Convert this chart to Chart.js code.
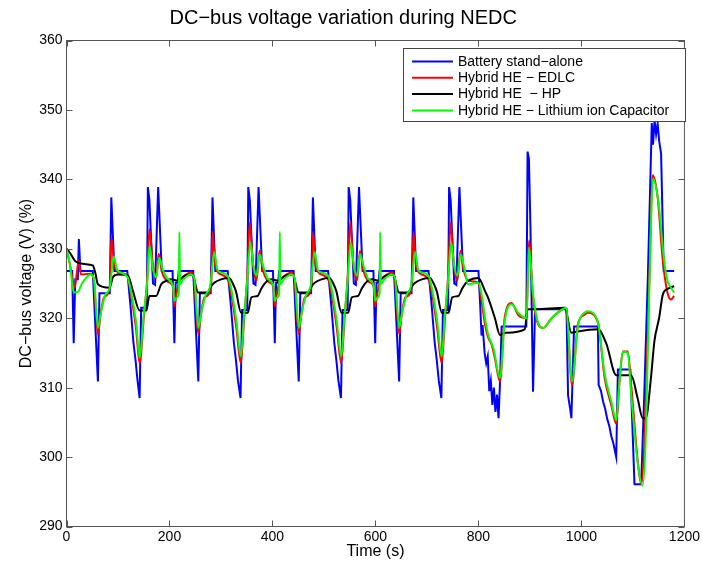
<!DOCTYPE html>
<html>
<head>
<meta charset="utf-8">
<script src="https://cdn.jsdelivr.net/npm/chart.js@4.4.0/dist/chart.umd.min.js"></script>
<style>
  html, body { margin: 0; padding: 0; background: #fff; }
  canvas { display: block; }
</style>
</head>
<body>
<canvas id="chart" width="702" height="563"></canvas>
<script>
const FONT = '"Liberation Sans", Arial, Helvetica, sans-serif';

const seriesNames = ['Battery stand\u2212alone', 'Hybrid HE \u2212 EDLC', 'Hybrid HE  \u2212 HP', 'Hybrid HE \u2212 Lithium ion Capacitor'];
const seriesColors = ['#0000ff', '#ff0000', '#000000', '#00ff00'];
const xTicks = [0, 200, 400, 600, 800, 1000, 1200];
const yTicks = [290, 300, 310, 320, 330, 340, 350, 360];

// [time (s), voltage (V)]
const battery = [
  [0,326.8],[11,326.8],[14,316.4],[17,325.6],[22,325.6],[24,331.4],[27,326.8],[51,326.8],[61,310.9],[64,323.6],[84,323.6],[87,337.4],[93,326.8],
  [118,326.8],[124,322],[130,316.5],[134,314],[138,311],[142,308.5],[145,321.5],[156,321.5],[158,338.9],[161,337],[168,325],[172,324.8],[178,338.9],[185,326.8],
  [195,326.8],[206,326.8],[209.5,316.4],[212,325.1],[216,325.1],[218,326.8],[246,326.8],[256,310.9],[259,323.6],[280,323.6],[283.5,337.4],[289,326.8],
  [313,326.8],[319,322],[325,316.5],[329,314],[333,311],[338,308.5],[341,321.2],[351,321.2],[353,338.9],[356,337],[363,325],[367,324.8],[373,338.9],[380,326.8],
  [390,326.8],[401,326.8],[404.5,316.4],[407,325.1],[411,325.1],[413,326.8],[441,326.8],[451,310.9],[454,323.6],[475,323.6],[478.5,337.4],[484,326.8],
  [508,326.8],[514,322],[520,316.5],[524,314],[528,311],[533,308.5],[536,321.2],[546,321.2],[548,338.9],[551,337],[558,325],[562,324.8],[568,338.9],[575,326.8],
  [585,326.8],[596,326.8],[599.5,316.4],[602,325.1],[606,325.1],[608,326.8],[636,326.8],[646,310.9],[649,323.6],[670,323.6],[673.5,337.4],[679,326.8],
  [703,326.8],[709,322],[715,316.5],[719,314],[723,311],[728,308.5],[731,321.2],[741,321.2],[743,338.9],[746,337],[753,325],[757,324.8],[763,338.9],[770,326.8],
  [780,326.8],[800,326.8],[803,322.5],[806,317.5],[808,319],[812,315],[815,313.5],[818,314.5],[821,309.5],[824,311],[827,307.5],[830,310],[833,306.5],[836,309],[839,305.6],[842,311],[845,318.8],
  [893,318.8],[895.4,344],[898,343],[901,333],[906,309.4],[910,321.3],[971,321.3],[974,308.9],[978,307],[980.5,305.6],[985.7,318.8],
  [1032,318.8],[1033.4,310.4],[1038,309.5],[1042,308],[1046,307],[1050,305.5],[1054,304.5],[1058,303],[1062,302],[1067.6,300],[1070.8,312.6],[1095,312.6],
  [1103,296.1],[1116,296.1],[1122,309],[1129,326],[1136.6,348.1],[1139,345],[1142,348.5],[1145,346.5],[1148,348],[1151,345.5],[1154.7,343.7],[1159.8,326.8],[1180,326.8]
];

const edlc = [
  [0,330],[6,328],[12,325.5],[14.5,324.4],[17,324.8],[24,328.3],[28,326.3],[47,326.4],[53,325.5],[61,317.6],[66,320.5],[73,323],[84,324.4],[87,331.6],[93,327.5],
  [105,326.5],[118,326.2],[125,323.5],[135,318.5],[142,313.5],[150,320],[157,326],[161,332.8],[168,327.5],[174,325.8],[179,329.3],[186,326.5],
  [195,325.4],[203,325],[207,324.4],[209.5,321.7],[213,323.3],[219,325.4],[225,325.9],[242,326.6],[248,325.4],[256,317.7],[261,320.5],[268,323],[281,324.6],[283.7,332.4],[289,327.5],
  [300,326.3],[313,325.6],[320,323.5],[330,318.5],[338.5,313.5],[345,320],[351,326],[356,333.8],[362,328],[369,325.4],[375,329.7],[381,327],
  [390,325.4],[398,325],[402,324.4],[404.5,321.7],[408,323.3],[414,325.4],[420,325.9],[437,326.6],[443,325.4],[451,317.7],[456,320.5],[463,323],[476,324.6],[478.7,332.4],[484,327.5],
  [495,326.3],[508,325.6],[515,323.5],[525,318.5],[533.5,313.5],[540,320],[546,326],[551,333.8],[557,328],[564,325.4],[570,329.7],[576,327],
  [585,325.4],[593,325],[597,324.4],[599.5,321.7],[603,323.3],[609,325.4],[615,325.9],[632,326.6],[638,325.4],[646,317.7],[651,320.5],[658,323],[671,324.6],[673.7,332.4],[679,327.5],
  [690,326.3],[703,325.6],[710,323.5],[720,318.5],[728.5,313.5],[735,320],[741,326],[746,333.8],[752,328],[759,325.4],[765,329.7],[771,327],
  [780,325.4],[800,325.1],[806,322.5],[812.8,319.1],[819,317.2],[825.7,316.2],[832,314.2],[841.8,310.9],[851,320.1],[864.4,322.2],[877,320.5],[893.4,320],
  [898,331.2],[906,323],[916,319.1],[925.7,318.6],[942,320],[961,321.2],[970,321.5],[981.8,310.4],[993,319.1],[1006,320.5],[1012,320.8],[1032,319.4],
  [1045,311.4],[1058,307.5],[1067.6,304.8],[1074,311],[1080.5,315.2],[1090,315.2],[1096.6,310.4],[1109.5,299.3],[1116,296.1],[1122,301.7],[1132,325.8],
  [1138.5,340.6],[1148,337.4],[1158,328.3],[1167,323.7],[1174,322.7],[1180,323.2]
];

const hp = [
  [0,330],[6,329.5],[16,328.3],[22,328],[35,327.8],[51,327.6],[56,326.5],[61,324.9],[84,324.4],[90,325.9],[100,326.3],[119,326.2],[129,323.9],[142,321.1],
  [155,321.1],[161,323.2],[174,323.2],[184,324.9],
  [195,325.4],[203,325.6],[216,325.4],[229,326.1],[245,326.3],[250,325],[255,323.7],[274,323.7],[280,324.5],[287,325.1],[300,325.6],[316,325.8],[323,325],[329,323.9],
  [339,320.8],[352,320.8],[359,323],[371,323.2],[378,324.2],[384,324.9],
  [390,325.4],[398,325.6],[411,325.4],[424,326.1],[440,326.3],[445,325],[450,323.7],[469,323.7],[475,324.5],[482,325.1],[495,325.6],[511,325.8],[518,325],[524,323.9],
  [534,320.8],[547,320.8],[554,323],[566,323.2],[573,324.2],[579,324.9],
  [585,325.4],[593,325.6],[606,325.4],[619,326.1],[635,326.3],[640,325],[645,323.7],[664,323.7],[670,324.5],[677,325.1],[690,325.6],[706,325.8],[713,325],[719,323.9],
  [729,320.8],[742,320.8],[749,323],[761,323.2],[768,324.2],[774,324.9],
  [780,325.4],[800,325.8],[812.8,323.9],[819,322.9],[832,320],[841.8,317.6],[851,317.9],[890,318.4],[895.4,321.3],[910,321.3],[967.6,321.5],[980.5,317.9],
  [993,318.1],[1032,318.4],[1048,316.4],[1067.6,311.8],[1096.6,311.8],[1109,308.5],[1119,305.6],[1125,305.6],[1135,311.4],[1141.7,316.7],[1151,320.1],
  [1158,323.4],[1167,324.2],[1180,324.6]
];

const lic = [
  [0,330],[6,328],[12,324.5],[14.5,323.7],[22,323.8],[30,325],[47,326.3],[53,325.8],[61,318.6],[66,320.5],[75,323.3],[84,324.4],[92,328.9],[98,327],
  [118,326],[125,324],[135,319.5],[142,314.3],[150,320.5],[157,325.4],[161,330.4],[168,327],[174,325.9],[180,328.7],[187,327],
  [195,325.8],[203,325.2],[207,324.5],[209.5,322.5],[213,322.9],[218,323.5],[219.2,332.4],[220.5,324.9],[227,325.6],[242,326.3],[248,325.8],[256,318.6],[261,320.5],[270,323.3],[279,324.6],
  [287,329.5],[293,327],[300,326.6],[313,326.1],[320,324.2],[330,319.5],[338.5,314.5],[345,320.5],[351,325.4],[357,330.9],[363,327.5],[369,326.1],[375,329.2],[382,327.5],
  [390,325.8],[398,325.2],[402,324.5],[404.5,322.5],[408,322.9],[413,323.5],[414.2,332.4],[415.5,324.9],[422,325.6],[437,326.3],[443,325.8],[451,318.6],[456,320.5],[465,323.3],[474,324.6],
  [482,329.5],[488,327],[495,326.6],[508,326.1],[515,324.2],[525,319.5],[533.5,314.5],[540,320.5],[546,325.4],[552,330.9],[558,327.5],[564,326.1],[570,329.2],[577,327.5],
  [585,325.8],[593,325.2],[597,324.5],[599.5,322.5],[603,322.9],[608,323.5],[609.2,332.4],[610.5,324.9],[617,325.6],[632,326.3],[638,325.8],[646,318.6],[651,320.5],[660,323.3],[669,324.6],
  [677,329.5],[683,327],[690,326.6],[703,326.1],[710,324.2],[720,319.5],[728.5,314.5],[735,320.5],[741,325.4],[747,330.9],[753,327.5],[759,326.1],[765,329.2],[772,327.5],
  [780,324.9],[800,325.1],[806,323.5],[812.8,320],[819,317.6],[829,315.7],[841.8,311.4],[851,319.5],[864.4,322],[877,320.8],[893.4,320],
  [898,330.2],[906,323.5],[916,319.3],[925.7,318.6],[942,320],[961,321.2],[970,321.5],[981.8,310.9],[993,318.8],[1006,320.8],[1012,321],[1032,319.4],
  [1045,312],[1058,308],[1067.6,305.3],[1074,311],[1080.5,315.2],[1090,315],[1096.6,309],[1109.5,299],[1119,295.9],[1125,303],[1132,325],
  [1139,340.1],[1150,336.5],[1160,328.7],[1167,325.4],[1174,324.4],[1180,323.7]
];

const allSeries = [battery, edlc, hp, lic];

// box, inward ticks and legend drawn the way the original plot has them
const framePlugin = {
  id: 'frame',
  afterDatasetsDraw(chart) {
    const { ctx, chartArea: a, scales: { x, y } } = chart;
    ctx.save();
    ctx.strokeStyle = '#555';
    ctx.lineWidth = 1;
    ctx.strokeRect(a.left, a.top, a.right - a.left, a.bottom - a.top);
    ctx.beginPath();
    xTicks.forEach(v => {
      const px = Math.round(x.getPixelForValue(v)) + 0.5;
      ctx.moveTo(px, a.bottom); ctx.lineTo(px, a.bottom - 6);
      ctx.moveTo(px, a.top); ctx.lineTo(px, a.top + 6);
    });
    yTicks.forEach(v => {
      const py = Math.round(y.getPixelForValue(v)) + 0.5;
      ctx.moveTo(a.left, py); ctx.lineTo(a.left + 6, py);
      ctx.moveTo(a.right, py); ctx.lineTo(a.right - 6, py);
    });
    ctx.stroke();

    // legend
    const lx = 403.5, ly = 48.5, lw = 282, lh = 73;
    ctx.fillStyle = '#fff';
    ctx.fillRect(lx, ly, lw, lh);
    ctx.strokeStyle = '#444';
    ctx.strokeRect(lx, ly, lw, lh);
    ctx.font = '14px ' + FONT;
    ctx.textBaseline = 'middle';
    ctx.textAlign = 'left';
    seriesNames.forEach((name, i) => {
      const ry = 61.5 + i * 16.3;
      ctx.strokeStyle = seriesColors[i];
      ctx.lineWidth = 2;
      ctx.beginPath();
      ctx.moveTo(412, ry); ctx.lineTo(453, ry);
      ctx.stroke();
      ctx.fillStyle = '#000';
      ctx.fillText(name, 458, ry + 0.5);
    });
    ctx.restore();
  }
};

new Chart(document.getElementById('chart'), {
  type: 'line',
  data: {
    datasets: allSeries.map((s, i) => ({
      label: seriesNames[i],
      data: s.map(p => ({ x: p[0], y: p[1] })),
      borderColor: seriesColors[i],
      borderWidth: 2,
      pointRadius: 0,
      // the supercap / HP traces are smooth, the battery one is jagged
      cubicInterpolationMode: i === 0 ? 'default' : 'monotone',
      tension: 0,
      fill: false,
      order: 3 - i
    }))
  },
  options: {
    responsive: false,
    animation: false,
    layout: { padding: { left: 0, right: 15.5, top: 0, bottom: 0 } },
    plugins: {
      legend: { display: false },
      tooltip: { enabled: false },
      title: {
        display: true,
        text: 'DC\u2212bus voltage variation during NEDC',
        color: '#000',
        font: { family: FONT, size: 20, weight: 'normal' },
        padding: { top: 6, bottom: 10.5 }
      }
    },
    scales: {
      x: {
        type: 'linear',
        min: 0,
        max: 1200,
        afterBuildTicks: s => { s.ticks = xTicks.map(v => ({ value: v })); },
        afterFit: s => { s.height = 36.5; },
        grid: { display: false, drawTicks: false },
        border: { display: false },
        ticks: { padding: 2, color: '#000', maxRotation: 0, font: { family: FONT, size: 14 }, callback: v => String(v) },
        title: { display: true, text: 'Time (s)', color: '#000', font: { family: FONT, size: 16 }, padding: { top: 0, bottom: 2 } }
      },
      y: {
        type: 'linear',
        min: 290,
        max: 360,
        afterBuildTicks: s => { s.ticks = yTicks.map(v => ({ value: v })); },
        afterFit: s => { s.width = 66.5; },
        grid: { display: false, drawTicks: false },
        border: { display: false },
        ticks: { padding: 4, color: '#000', font: { family: FONT, size: 14 }, callback: v => String(v) },
        title: { display: true, text: 'DC\u2212bus voltage (V) (%)', color: '#000', font: { family: FONT, size: 16 }, padding: { top: 17, bottom: 0 } }
      }
    }
  },
  plugins: [framePlugin]
});
</script>
</body>
</html>
